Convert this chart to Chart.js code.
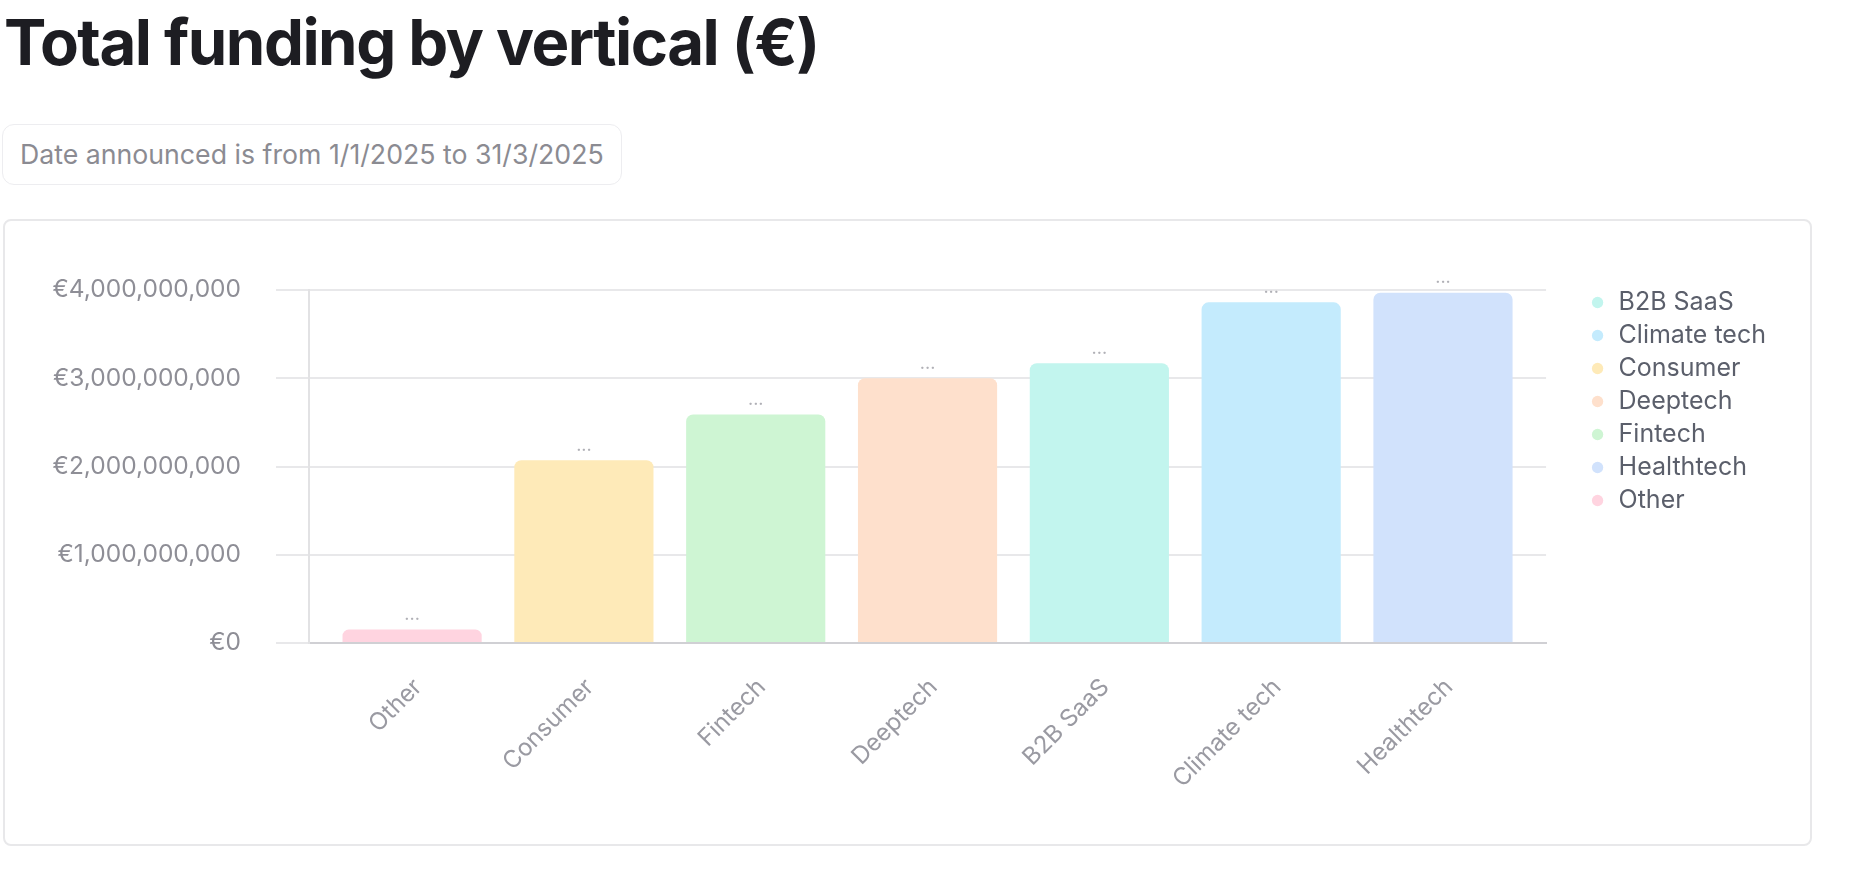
<!DOCTYPE html>
<html>
<head>
<meta charset="utf-8">
<script src="https://cdn.jsdelivr.net/npm/chart.js@4.4.1/dist/chart.umd.min.js"></script>
<style>
    html, body {
        margin: 0;
        padding: 0;
        background: #ffffff;
        width: 1854px;
        height: 876px;
        overflow: hidden;
        font-family: Inter, "Noto Sans", sans-serif;
    }
    h1 {
        position: absolute;
        left: 4px;
        top: -3px;
        margin: 0;
        font-size: 63.5px;
        line-height: 90px;
        font-weight: 700;
        letter-spacing: -1.5px;
        color: #1d1d22;
    }
    .filter {
        position: absolute;
        left: 2px;
        top: 124px;
        width: 618px;
        height: 59px;
        border: 1.5px solid #ededf0;
        border-radius: 12px;
        box-sizing: content-box;
    }
    .filter span {
        position: absolute;
        left: 17px;
        top: 0;
        line-height: 59px;
        font-size: 26.7px;
        color: #8b8b92;
        white-space: nowrap;
    }
    .card {
        position: absolute;
        left: 3px;
        top: 219px;
        width: 1805px;
        height: 623px;
        border: 2px solid #e8e8ea;
        border-radius: 8px;
    }
    #chartWrap {
        position: absolute;
        left: 20px;
        top: 250px;
        width: 1780px;
        height: 590px;
    }
</style>
</head>
<body>
<h1>Total funding by vertical (€)</h1>
<div class="filter"><span>Date announced is from 1/1/2025 to 31/3/2025</span></div>
<div class="card"></div>
<div id="chartWrap"><canvas id="fundingChart"></canvas></div>

<script>
// bars, sorted by amount (as shown on the x axis)
const categories = ['Other', 'Consumer', 'Fintech', 'Deeptech', 'B2B SaaS', 'Climate tech', 'Healthtech'];
const funding = [152000000, 2070000000, 2590000000, 3000000000, 3170000000, 3860000000, 3970000000];
const barColors = ['#ffd4e0', '#feeab8', '#cef5d3', '#fee0cc', '#c2f5ee', '#c4ebfd', '#d1e2fc'];
const yTicks = [0, 1000000000, 2000000000, 3000000000, 4000000000];

// legend is listed alphabetically
const legendOrder = ['B2B SaaS', 'Climate tech', 'Consumer', 'Deeptech', 'Fintech', 'Healthtech', 'Other'];

const formatEuro = (v) => '€' + Number(v).toLocaleString('en-US');

// small "..." marker above every bar
const dotsPlugin = {
    id: 'barDots',
    afterDatasetsDraw(chart) {
        const ctx = chart.ctx;
        const meta = chart.getDatasetMeta(0);
        ctx.save();
        ctx.font = '18px Inter';
        ctx.fillStyle = '#b0b0b6';
        ctx.textAlign = 'center';
        ctx.textBaseline = 'bottom';
        meta.data.forEach(bar => {
            ctx.fillText('...', bar.x, bar.y - 6);
        });
        ctx.restore();
    }
};

const ctx = document.getElementById('fundingChart').getContext('2d');
const chart = new Chart(ctx, {
    type: 'bar',
    data: {
        datasets: [{
            data: funding.map((v, i) => ({ x: i, y: v })),
            backgroundColor: barColors,
            borderWidth: 0,
            borderRadius: 7,
            borderSkipped: 'start',
            categoryPercentage: 0.81,
            barPercentage: 1
        }]
    },
    plugins: [dotsPlugin],
    options: {
        responsive: true,
        maintainAspectRatio: false,
        animation: false,
        devicePixelRatio: 1,
        layout: {
            padding: { top: 0, right: 24, bottom: 0, left: 0 }
        },
        plugins: {
            tooltip: { enabled: false },
            legend: {
                position: 'right',
                align: 'start',
                // empty title only used to push the items down
                title: {
                    display: true,
                    text: '',
                    font: { size: 0 },
                    padding: { top: 32, bottom: 0 }
                },
                labels: {
                    usePointStyle: true,
                    boxWidth: 17,
                    boxHeight: 8,
                    padding: 8,
                    color: '#5b5f6b',
                    font: { family: 'Inter', size: 25 },
                    generateLabels: () => legendOrder.map(name => {
                        const c = barColors[categories.indexOf(name)];
                        return {
                            text: name,
                            fillStyle: c,
                            strokeStyle: c,
                            fontColor: '#5b5f6b',
                            lineWidth: 0,
                            pointStyle: 'circle',
                            hidden: false
                        };
                    })
                }
            }
        },
        scales: {
            x: {
                type: 'linear',
                offset: false,
                min: -0.6,
                max: categories.length - 0.4,
                grid: { display: false, drawTicks: false },
                border: { display: true, color: '#d0d0d4', width: 2 },
                ticks: {
                    stepSize: 1,
                    includeBounds: false,
                    autoSkip: false,
                    minRotation: 45,
                    maxRotation: 45,
                    padding: 30,
                    labelOffset: 6,
                    color: '#9a9aa2',
                    font: { family: 'Inter', size: 24 },
                    callback: (v) => Number.isInteger(v) ? categories[v] : ''
                },
                afterFit: (scale) => { scale.height = 197; }
            },
            y: {
                min: 0,
                max: 4000000000,
                afterBuildTicks: (scale) => { scale.ticks = yTicks.map(v => ({ value: v })); },
                grid: {
                    color: '#e8e8ea',
                    lineWidth: 2,
                    tickLength: 33,
                    tickColor: '#e8e8ea'
                },
                border: { display: true, color: '#e2e2e4', width: 2 },
                ticks: {
                    padding: 35,
                    color: '#8e8e96',
                    font: { family: 'Inter', size: 24.5, lineHeight: 1 },
                    callback: (v) => formatEuro(v)
                },
                afterFit: (scale) => {
                    scale.width = 289;
                    scale.paddingTop = 40;
                }
            },
            // empty spacer box between plot and legend
            gap: {
                type: 'linear',
                position: 'right',
                display: true,
                grid: { display: false, drawOnChartArea: false },
                border: { display: false },
                ticks: { display: false },
                afterFit: (scale) => { scale.width = 35; }
            }
        }
    }
});
</script>
</body>
</html>
